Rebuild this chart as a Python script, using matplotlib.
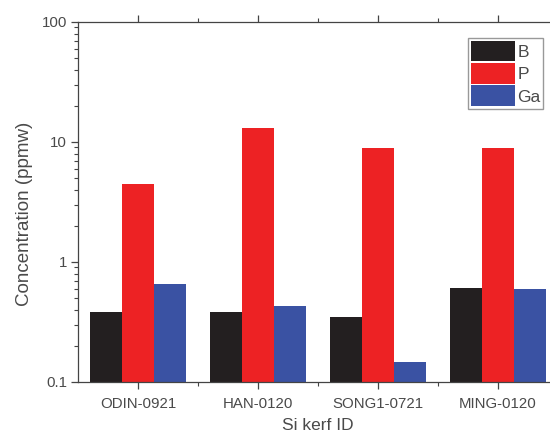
import numpy as np
import matplotlib
matplotlib.use("Agg")
import matplotlib.pyplot as plt
from matplotlib.ticker import LogLocator, FixedLocator, NullFormatter

plt.rcParams['font.family'] = ['Liberation Sans', 'DejaVu Sans']

samples = ["ODIN-0921", "HAN-0120", "SONG1-0721", "MING-0120"]
elements = ["B", "P", "Ga"]
boron = [0.38, 0.38, 0.35, 0.61]
phosphorus = [4.45, 13.1, 8.9, 8.9]
gallium = [0.65, 0.43, 0.147, 0.60]
colors = ["#231f20", "#ed2224", "#3a52a3"]

fig = plt.figure(figsize=(5.5, 4.36), dpi=100)
ax = fig.add_axes([0.1418, 0.1239, 0.8727, 0.8257])

x = np.arange(len(samples))
w = 0.267
for i, (vals, c, lab) in enumerate(zip([boron, phosphorus, gallium], colors, elements)):
    ax.bar(x + (i - 1) * w, vals, width=w, color=c, label=lab, zorder=2)

ax.set_yscale('log')
ax.set_ylim(0.1, 100)
ax.set_xlim(-0.5, 3.5)
ax.set_yticks([0.1, 1, 10, 100])
ax.set_yticklabels(["0.1", "1", "10", "100"])
ax.yaxis.set_minor_locator(LogLocator(base=10, subs=np.arange(2, 10)))
ax.yaxis.set_minor_formatter(NullFormatter())
ax.set_xticks(x)
ax.set_xticklabels(samples)
ax.xaxis.set_minor_locator(FixedLocator([0.5, 1.5, 2.5]))

for s in ax.spines.values():
    s.set_color("#444444")
    s.set_linewidth(0.9)

ax.tick_params(axis='both', which='major', colors="#444444", labelcolor="#4a4a4a",
               labelsize=10.8, length=5, width=0.9, direction='out')
ax.tick_params(axis='both', which='minor', colors="#444444", length=3, width=0.8,
               direction='out')
ax.tick_params(axis='x', which='both', top=True)
ax.tick_params(axis='x', which='major', pad=6)
ax.tick_params(axis='y', which='major', pad=3)

ax.set_xlabel("Si kerf ID", fontsize=12.5, color="#4a4a4a", labelpad=5)
ax.set_ylabel("Concentration (ppmw)", fontsize=13.5, color="#4a4a4a")
ax.yaxis.set_label_coords(-0.094, 0.467)

leg = ax.legend(loc='upper left', bbox_to_anchor=(0.8125, 0.955), fontsize=12.5,
                handlelength=2.55, handleheight=1.45, handletextpad=0.15,
                labelspacing=0.1, borderpad=0.15, borderaxespad=0,
                fancybox=False, framealpha=1, edgecolor="#999999")
for t in leg.get_texts():
    t.set_color("#4a4a4a")

fig.savefig("out.png", dpi=100)
